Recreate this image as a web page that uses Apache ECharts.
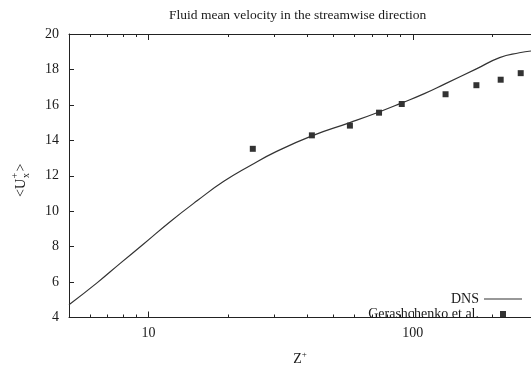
<!DOCTYPE html>
<html>
<head>
<meta charset="utf-8">
<script src="https://cdn.jsdelivr.net/npm/echarts@6/dist/echarts.min.js"></script>
<style>
html,body{margin:0;padding:0;background:#fff;}
#chart{width:531px;height:371px;}
</style>
</head>
<body>
<div id="chart"></div>
<script>
// DNS profile: [z+, <Ux+>]
const dnsZ = [5, 6.4, 7.83, 9.6, 12.1, 15.3, 19.2, 24.3, 30, 41.5, 57.8, 74.5, 90.8, 110, 133, 174, 213, 253, 280];
const dnsU = [4.72, 5.97, 7.07, 8.16, 9.42, 10.6, 11.67, 12.58, 13.32, 14.25, 15.0, 15.6, 16.11, 16.62, 17.2, 18.03, 18.67, 18.94, 19.04];
// Gerashchenko et al. measurements
const expZ = [24.8, 41.5, 57.8, 74.5, 90.8, 133, 174, 215, 256];
const expU = [13.52, 14.28, 14.83, 15.56, 16.05, 16.6, 17.11, 17.42, 17.79];
// axis ticks
const xMajorTicks = [10, 100];
const xMinorTicks = [6, 7, 8, 9, 20, 30, 40, 50, 60, 70, 80, 90, 200];
const xMin = 5, xMax = 280;
const yMin = 4, yMax = 20, yStep = 2;

const FONT = '"Liberation Serif", "DejaVu Serif", serif';
const TXT = '#1a1a1a';
const LINE = '#222';

const chart = echarts.init(document.getElementById('chart'), null, {renderer: 'canvas'});

function xAx(extra) {
  return Object.assign({
    type: 'log', logBase: 10, min: xMin, max: xMax, gridIndex: 0,
    splitLine: {show: false},
    axisLine: {show: true, lineStyle: {color: LINE, width: 1}},
    axisTick: {show: false},
    axisLabel: {show: false}
  }, extra);
}

const option = {
  animation: false,
  backgroundColor: '#fff',
  title: {
    text: 'Fluid mean velocity in the streamwise direction',
    left: 169, top: 8, padding: 0,
    textStyle: {fontFamily: FONT, fontSize: 13.5, fontWeight: 'normal', color: TXT}
  },
  grid: {left: 69, right: 0, top: 34, bottom: 45, containLabel: false},
  legend: {
    orient: 'vertical', right: 9, top: 292, align: 'right', padding: 0,
    itemWidth: 38, itemHeight: 6, itemGap: 1, symbolKeepAspect: true,
    textStyle: {fontFamily: FONT, fontSize: 14, color: TXT, lineHeight: 14},
    data: [
      {name: 'DNS', icon: 'path://M0 0H38V1H0Z'},
      {name: 'Gerashchenko et al.', icon: 'path://M0 0H10V10H0Z'}
    ]
  },
  xAxis: [
    xAx({
      position: 'bottom',
      name: 'Z{sup|+}', nameLocation: 'middle', nameGap: 33,
      nameTextStyle: {fontFamily: FONT, fontSize: 14, color: TXT,
        rich: {sup: {fontFamily: FONT, fontSize: 9, color: TXT, padding: [0, 0, 8, 0]}}},
      axisTick: {show: true, inside: true, length: 6, customValues: xMajorTicks, lineStyle: {color: LINE}},
      axisLabel: {show: true, customValues: xMajorTicks, margin: 9,
        fontFamily: FONT, fontSize: 14, color: TXT, formatter: v => String(Math.round(v))}
    }),
    xAx({
      position: 'bottom', axisLine: {show: false},
      axisTick: {show: true, inside: true, length: 3, customValues: xMinorTicks, lineStyle: {color: LINE}}
    }),
    xAx({
      position: 'top',
      axisTick: {show: true, inside: true, length: 6, customValues: xMajorTicks, lineStyle: {color: LINE}}
    }),
    xAx({
      position: 'top', axisLine: {show: false},
      axisTick: {show: true, inside: true, length: 3, customValues: xMinorTicks, lineStyle: {color: LINE}}
    })
  ],
  yAxis: {
    type: 'value', min: yMin, max: yMax, interval: yStep,
    splitLine: {show: false},
    axisLine: {show: true, lineStyle: {color: LINE, width: 1}},
    axisTick: {show: true, inside: true, length: 5, lineStyle: {color: LINE}},
    axisLabel: {margin: 10, fontFamily: FONT, fontSize: 14, color: TXT}
  },
  graphic: [{
    type: 'group', x: 21, y: 180, rotation: Math.PI / 2,
    children: [
      {type: 'text', x: -17, y: 0, style: {text: '<U', fontFamily: FONT, fontSize: 14, fill: TXT, align: 'left', verticalAlign: 'middle'}},
      {type: 'text', x: 1.5, y: -6, style: {text: '+', fontFamily: FONT, fontSize: 10, fill: TXT, align: 'left', verticalAlign: 'middle'}},
      {type: 'text', x: 2, y: 5, style: {text: 'x', fontFamily: FONT, fontSize: 10, fill: TXT, align: 'left', verticalAlign: 'middle'}},
      {type: 'text', x: 8.5, y: 0, style: {text: '>', fontFamily: FONT, fontSize: 14, fill: TXT, align: 'left', verticalAlign: 'middle'}}
    ]
  }],
  series: [
    {
      name: 'DNS', type: 'line', xAxisIndex: 0, yAxisIndex: 0,
      data: dnsZ.map((z, i) => [z, dnsU[i]]),
      smooth: 0.5, symbol: 'none',
      lineStyle: {color: '#333', width: 1.2},
      itemStyle: {color: '#333'}
    },
    {
      name: 'Gerashchenko et al.', type: 'scatter', xAxisIndex: 0, yAxisIndex: 0,
      data: expZ.map((z, i) => [z, expU[i]]),
      symbol: 'rect', symbolSize: 6,
      itemStyle: {color: '#000'}
    }
  ]
};
chart.setOption(option);
</script>
</body>
</html>
